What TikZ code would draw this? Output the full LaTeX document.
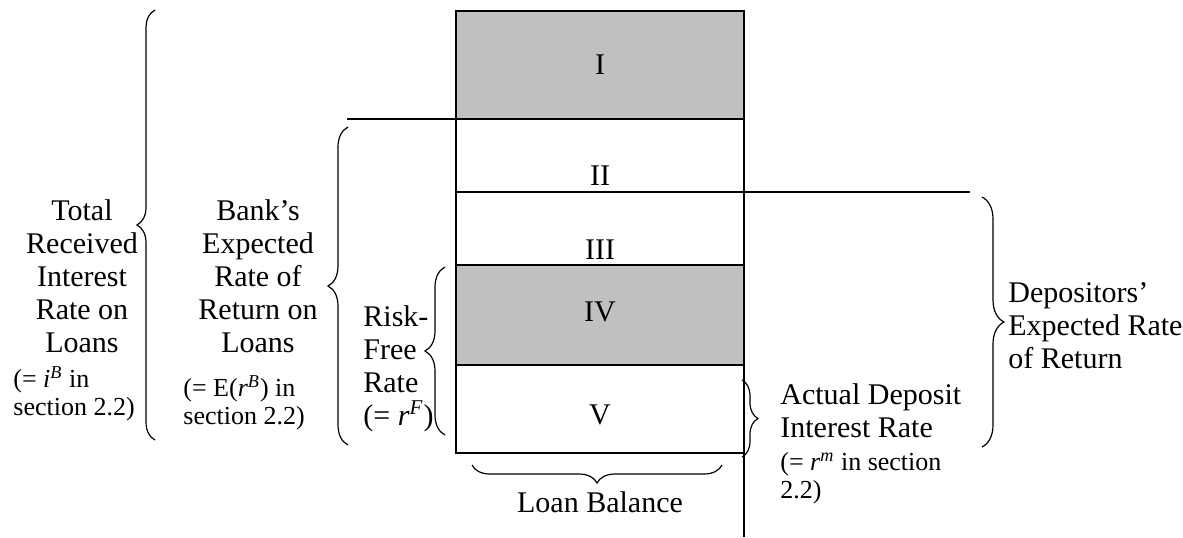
\documentclass[tikz,border=0pt]{standalone}
\usepackage{fontspec}
\setmainfont{Liberation Serif}
\usetikzlibrary{positioning, decorations.pathreplacing}

\definecolor{boxgray}{HTML}{C0C0C0}

\tikzset{
  slab/.style={draw, line width=0.7pt, minimum width=144pt, inner sep=0pt, outer sep=0pt},
  shaded/.style={fill=boxgray},
  lbl/.style={font=\fontsize{15}{16.5}\selectfont, inner sep=0pt},
  note/.style={font=\fontsize{13}{14}\selectfont, inner sep=0pt, align=left},
  curly/.style={decorate, decoration={brace, amplitude=#1}, line width=0.6pt},
  curly/.default=10pt,
}

\begin{document}
\begin{tikzpicture}[x=0.5pt, y=-0.5pt]
\useasboundingbox (0,0) rectangle (1183,537);

% Loan column
\node[slab, shaded, minimum height=54pt, anchor=north west] (rowI) at (456,11) {};
\node[slab, minimum height=36.5pt, below=0pt of rowI] (rowII) {};
\node[slab, minimum height=36.5pt, below=0pt of rowII] (rowIII) {};
\node[slab, shaded, minimum height=50pt, below=0pt of rowIII] (rowIV) {};
\node[slab, minimum height=44pt, below=0pt of rowIV] (rowV) {};

\node[lbl] at (rowI) {I};
\node[lbl, anchor=base] at ([yshift=3.5pt]rowII.south) {II};
\node[lbl, anchor=base] at ([yshift=3pt]rowIII.south) {III};
\node[lbl] at ([yshift=1.5pt]rowIV) {IV};
\node[lbl] at ([yshift=-3pt]rowV) {V};

% Free ends and brace ends
\path (347,119) coordinate (cutL)
      (970,192) coordinate (cutR)
      (744,537) coordinate (axisEnd)
      (155,10) coordinate (totTop)   (155,440) coordinate (totBot)
      (348,127) coordinate (bankTop) (348,445) coordinate (bankBot)
      (445,267) coordinate (riskTop) (445,435) coordinate (riskBot)
      (742,380) coordinate (actTop)  (742,457) coordinate (actBot)
      (982,197) coordinate (depTop)  (982,447) coordinate (depBot)
      (472,465) coordinate (loanL)   (722,465) coordinate (loanR);

\draw[line width=0.7pt] (cutL) -- (rowI.south west);
\draw[line width=0.7pt] (rowII.south east) -- (cutR);
\draw[line width=0.7pt] (rowV.south east) -- (axisEnd);

% Braces
\draw[curly=9pt] (totBot) -- (totTop);
\draw[curly] (bankBot) -- (bankTop);
\draw[curly] (riskBot) -- (riskTop);
\draw[curly=8pt] (actTop) -- (actBot);
\draw[curly=11pt] (depTop) -- (depBot);
\draw[curly=9pt] (loanR) -- (loanL);

% Labels
\node[lbl, align=center, anchor=north] (total) at (82,199)
  {Total\\Received\\Interest\\Rate on\\Loans};
\node[note, anchor=north west] (totalNote) at (13,366)
  {(= \textit{i}\textsuperscript{\textit{B}} in\\section 2.2)};

\node[lbl, align=center, anchor=north] (bank) at (258,199)
  {Bank’s\\Expected\\Rate of\\Return on\\Loans};
\node[note, anchor=north west] (bankNote) at (183,375)
  {(= E(\textit{r}\textsuperscript{\textit{B}}) in\\section 2.2)};

\node[lbl, align=left, anchor=north west] (riskfree) at (363,305)
  {Risk-\\Free\\Rate\\(= \textit{r}\textsuperscript{\textit{F}})};

\node[lbl, align=left, anchor=north west] (actual) at (780,383)
  {Actual Deposit\\Interest Rate};
\node[note, anchor=north west] (actualNote) at (780,452)
  {(= \textit{r}\textsuperscript{\textit{m}} in section\\2.2)};

\node[lbl, align=left, anchor=north west] (depositors) at (1008,282)
  {Depositors’\\Expected Rate\\of Return};

\node[lbl, anchor=north] (loan) at (600,491) {Loan Balance};

\end{tikzpicture}
\end{document}
